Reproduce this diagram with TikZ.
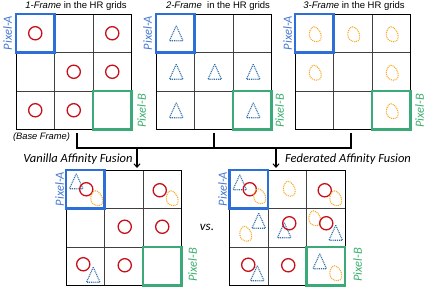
\documentclass[tikz,border=0pt]{standalone}
\usepackage{fontspec}
\setmainfont{Liberation Sans}
\newfontfamily\calib{Carlito}
\usetikzlibrary{arrows.meta}
\definecolor{cred}{RGB}{200,16,26}
\definecolor{ctri}{RGB}{46,110,170}
\definecolor{corg}{RGB}{247,170,40}
\definecolor{cblue}{RGB}{45,110,215}
\definecolor{cgreen}{RGB}{60,170,120}
\definecolor{lblue}{RGB}{70,120,210}
\definecolor{lgreen}{RGB}{60,175,110}
\tikzset{
  redcirc/.pic={\draw[cred,line width=1.3] (0,0) circle[radius=6.6];},
  bluetri/.pic={\draw[ctri,line width=1.1,dash pattern=on 1pt off 0.9pt] (0,-7.5) -- (6.8,7.5) -- (-6.8,7.5) -- cycle;},
  orblob/.pic={\draw[corg,line width=1.1,dash pattern=on 1pt off 0.9pt]
     (-1.5,-7.5) .. controls (2,-7.5) and (6,-2) .. (6,2)
     .. controls (6,6) and (4,7.5) .. (1.5,7.5)
     .. controls (-3,7.5) and (-6,4) .. (-6,0.5)
     .. controls (-6,-3) and (-4,-7.5) .. (-1.5,-7.5) -- cycle;},
  plab/.style={font=\calib\itshape\fontsize{12.5}{13}\selectfont, rotate=90, inner sep=0pt},
  pla/.style={plab, text=lblue},
  plb/.style={plab, text=lgreen},
  ttl/.style={font=\fontsize{9.5}{11}\selectfont, inner sep=0pt},
  fus/.style={font=\calib\itshape\fontsize{12.5}{14}\selectfont, inner sep=0pt},
  conn/.style={black, line width=1.1},
  arr/.style={conn, -{Straight Barb[length=3.5pt,width=6pt,line width=1pt]}},
}
\newcommand\hrgrid[2]{%
  \draw[black!75,line width=0.8] ({#1+38.5},#2) -- ++(0,115.5) ({#1+77},#2) -- ++(0,115.5)
     (#1,{#2+38.5}) -- ++(115.5,0) (#1,{#2+77}) -- ++(115.5,0);
  \draw[black,line width=1] (#1,#2) rectangle ++(115.5,115.5);
  \draw[cblue,line width=2.4] (#1,#2) rectangle ++(38.5,38.5);
  \draw[cgreen,line width=2.4] ({#1+77},{#2+77}) rectangle ++(38.5,38.5);
}
\newcommand\el[7]{\pic at ({#2+19.25+38.5*#5+#6},{#3+19.25+38.5*#4+#7}) {#1};}
\begin{document}
\begin{tikzpicture}[x=1pt,y=-1pt]
\useasboundingbox (0,0) rectangle (428,293);
% grids
\hrgrid{16}{14}
\hrgrid{156}{14}
\hrgrid{295}{14}
\hrgrid{66}{170}
\hrgrid{229.5}{170}
% titles
\node[ttl] (t1) at (76,6.5) {\textit{1-Frame} in the HR grids};
\node[ttl] (t2) at (218,6.5) {\textit{2-Frame}\ \ in the HR grids};
\node[ttl] (t3) at (354,6.5) {\textit{3-Frame} in the HR grids};
\node[ttl,font=\itshape\fontsize{9.3}{11}\selectfont] (bf) at (41.5,137) {(Base Frame)};
% pixel labels
\node[pla] (pa1) at (7.5,33) {Pixel-A};
\node[plb] (pb1) at (141.5,111) {Pixel-B};
\node[pla] (pa2) at (147.5,33) {Pixel-A};
\node[plb] (pb2) at (279.5,111) {Pixel-B};
\node[pla] (pa3) at (287.5,33) {Pixel-A};
\node[plb] (pb3) at (419.5,111) {Pixel-B};
\node[pla] (pa4) at (59.5,189) {Pixel-A};
\node[plb] (pb4) at (192.5,265) {Pixel-B};
\node[pla] (pa5) at (222.5,189) {Pixel-A};
\node[plb] (pb5) at (357.5,265) {Pixel-B};
% fusion labels
\node[fus] (vf) at (78,159) {Vanilla Affinity Fusion};
\node[fus] (ff) at (348,159) {Federated Affinity Fusion};
\node[fus,font=\calib\itshape\fontsize{13}{14}\selectfont] (vs) at (207,227) {vs.};
% connectors
\coordinate (b1) at (77,133);
\coordinate (b2) at (214,133);
\coordinate (b3) at (351,133);
\coordinate (j1) at (77,148);
\coordinate (j2) at (214,148);
\coordinate (j3) at (351,148);
\coordinate (a1s) at (137,148);
\coordinate (a1e) at (137,168);
\coordinate (a2s) at (276,148);
\coordinate (a2e) at (276,168);
\draw[conn] (b1) -- (j1) -- (j3) -- (b3);
\draw[conn] (b2) -- (j2);
\draw[arr] (a1s) -- (a1e);
\draw[arr] (a2s) -- (a2e);
% grid 1: circles
\el{redcirc}{16}{14}{0}{0}{0}{0}
\el{redcirc}{16}{14}{0}{2}{0}{0}
\el{redcirc}{16}{14}{1}{1}{0}{0}
\el{redcirc}{16}{14}{1}{2}{0}{0}
\el{redcirc}{16}{14}{2}{0}{0}{0}
\el{redcirc}{16}{14}{2}{1}{0}{0}
% grid 2: triangles
\el{bluetri}{156}{14}{0}{0}{1}{0}
\el{bluetri}{156}{14}{1}{0}{1}{0}
\el{bluetri}{156}{14}{1}{1}{1}{0}
\el{bluetri}{156}{14}{1}{2}{1}{0}
\el{bluetri}{156}{14}{2}{0}{1}{0}
\el{bluetri}{156}{14}{2}{2}{1}{0}
% grid 3: blobs
\el{orblob}{295}{14}{0}{0}{1}{1}
\el{orblob}{295}{14}{0}{1}{1}{1}
\el{orblob}{295}{14}{0}{2}{1}{1}
\el{orblob}{295}{14}{1}{0}{1}{1}
\el{orblob}{295}{14}{1}{2}{1}{1}
\el{orblob}{295}{14}{2}{2}{1}{1}
% grid 4: vanilla
\el{bluetri}{66}{170}{0}{0}{-9}{-8}
\el{redcirc}{66}{170}{0}{0}{1}{0}
\el{orblob}{66}{170}{0}{0}{11.5}{9}
\el{redcirc}{66}{170}{0}{2}{-2.5}{1}
\el{orblob}{66}{170}{0}{2}{10}{9}
\el{redcirc}{66}{170}{1}{1}{1}{-1}
\el{redcirc}{66}{170}{1}{2}{0}{-1}
\el{redcirc}{66}{170}{2}{0}{-2}{-2}
\el{bluetri}{66}{170}{2}{0}{8}{8.5}
\el{redcirc}{66}{170}{2}{1}{1}{-1}
% grid 5: federated
\el{bluetri}{229.5}{170}{0}{0}{-9}{-7}
\el{redcirc}{229.5}{170}{0}{0}{1}{0}
\el{orblob}{229.5}{170}{0}{0}{11}{7}
\el{orblob}{229.5}{170}{0}{1}{2}{-0.5}
\el{redcirc}{229.5}{170}{0}{2}{-1}{1}
\el{orblob}{229.5}{170}{0}{2}{10}{9}
\el{bluetri}{229.5}{170}{1}{0}{10}{-7}
\el{orblob}{229.5}{170}{1}{0}{-3}{6}
\el{bluetri}{229.5}{170}{1}{1}{-3}{2.5}
\el{redcirc}{229.5}{170}{1}{1}{2}{-4.5}
\el{orblob}{229.5}{170}{1}{2}{-11}{-9.5}
\el{redcirc}{229.5}{170}{1}{2}{0.5}{-4.5}
\el{bluetri}{229.5}{170}{1}{2}{10}{5}
\el{redcirc}{229.5}{170}{2}{0}{-0.5}{-1.5}
\el{bluetri}{229.5}{170}{2}{0}{8.5}{7}
\el{redcirc}{229.5}{170}{2}{1}{1}{-1}
\el{bluetri}{229.5}{170}{2}{2}{-6}{-5}
\el{orblob}{229.5}{170}{2}{2}{10}{7}
\end{tikzpicture}
\end{document}
